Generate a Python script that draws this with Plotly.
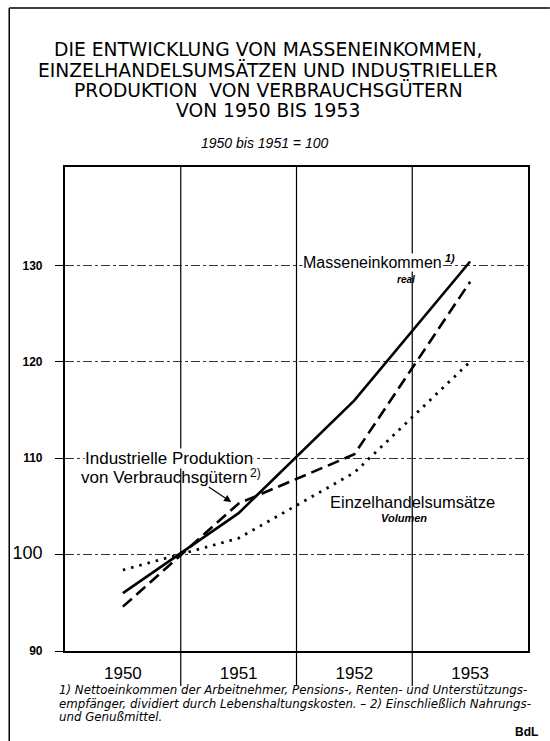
import plotly.graph_objects as go

# ---------------- data ----------------
years = ["1950", "1951", "1952", "1953"]
x_mid = [1950.5, 1951.5, 1952.5, 1953.5]
masseneinkommen = [96.0, 104.3, 116.0, 130.4]
industrie = [94.6, 105.3, 110.4, 128.3]
einzelhandel = [98.4, 101.7, 108.5, 120.0]
y_ticks = [90, 100, 110, 120, 130]
y_ticktext = ["<b>90</b>", "<span style='font-size:18px'>100</span>", "<b>110</b>", "<b>120</b>", "<b>130</b>"]
grid_x = [1951, 1952, 1953]

W, H = 550, 741
L, R, T, B = 63, 528, 167, 651


def px(x):
    return (x - L) / (R - L)


def py(y):
    return (B - y) / (B - T)


FONT = "Liberation Sans"
TFONT = "DejaVu Sans"
fig = go.Figure()

fig.add_trace(go.Scatter(x=x_mid, y=masseneinkommen, mode="lines",
                         line=dict(color="black", width=2.6), showlegend=False, hoverinfo="skip"))
fig.add_trace(go.Scatter(x=x_mid, y=industrie, mode="lines",
                         line=dict(color="black", width=2.6, dash="12px,6px"), showlegend=False, hoverinfo="skip"))
fig.add_trace(go.Scatter(x=x_mid, y=einzelhandel, mode="lines",
                         line=dict(color="black", width=2.8, dash="2.5px,6px"), showlegend=False, hoverinfo="skip"))

shapes = []
for gx in grid_x:
    shapes.append(dict(type="line", xref="x", yref="paper", x0=gx, x1=gx,
                       y0=py(686), y1=1, line=dict(color="black", width=1.2), layer="below"))
# outer frame of the picture
shapes.append(dict(type="line", xref="paper", yref="paper", x0=px(7), x1=px(7),
                   y0=py(741), y1=py(8), line=dict(color="black", width=1.5)))
shapes.append(dict(type="line", xref="paper", yref="paper", x0=px(7), x1=px(550),
                   y0=py(8), y1=py(8), line=dict(color="black", width=1.5)))

ann = []


def text(t, x, y, size, family=FONT, xanchor="center", bg=None):
    d = dict(text=t, x=px(x), y=py(y), xref="paper", yref="paper", showarrow=False,
             xanchor=xanchor, yanchor="middle", align="left",
             font=dict(family=family, size=size, color="black"))
    if bg:
        d["bgcolor"] = bg
        d["borderpad"] = 0
    ann.append(d)


title_lines = ["DIE ENTWICKLUNG VON MASSENEINKOMMEN,",
               "EINZELHANDELSUMSÄTZEN UND INDUSTRIELLER",
               "PRODUKTION  VON VERBRAUCHSGÜTERN",
               "VON 1950 BIS 1953"]
for i, t in enumerate(title_lines):
    text(t, 267, 49 + 20.5 * i, 18.7, TFONT)
text("<i>1950 bis 1951 = 100</i>", 263, 143, 14)

text("Masseneinkommen", 372, 262, 16, bg="white")
text("<b><i>1)</i></b>", 450, 258, 11)
text("<b><i>real</i></b>", 405, 279, 10)
text("Industrielle Produktion", 167, 458, 17, bg="white")
text("von Verbrauchsgütern", 162, 477, 17)
text("2)", 254, 473, 12)
ann.append(dict(text="", x=px(230), y=py(502), xref="paper", yref="paper", showarrow=True,
                ax=-24, ay=-16, arrowhead=2, arrowsize=1.2, arrowwidth=1.2, arrowcolor="black"))
text("Einzelhandelsumsätze", 412, 502, 16.5)
text("<b><i>Volumen</i></b>", 403, 518, 11)

foot_lines = ["<i>1) Nettoeinkommen der Arbeitnehmer, Pensions-, Renten- und Unterstützungs-</i>",
              "<i>empfänger, dividiert durch Lebenshaltungskosten. – 2) Einschließlich Nahrungs-</i>",
              "<i>und Genußmittel.</i>"]
for i, t in enumerate(foot_lines):
    text(t, 55, 690 + 13.5 * i, 11.8, TFONT, xanchor="left")
text("<b>BdL</b>", 540, 732, 12, xanchor="right")

fig.update_layout(
    width=W, height=H,
    margin=dict(l=L, r=W - R, t=T, b=H - B),
    paper_bgcolor="white", plot_bgcolor="white",
    hovermode=False,
    shapes=shapes, annotations=ann,
    xaxis=dict(range=[1950, 1954], tickvals=x_mid, ticktext=years, showgrid=False,
               zeroline=False, showline=True, mirror=True, linecolor="black", linewidth=2.2,
               ticks="", ticklabelstandoff=5,
               tickfont=dict(family=FONT, size=17, color="black"), fixedrange=True),
    yaxis=dict(range=[90, 140.2], tickvals=y_ticks, ticktext=y_ticktext,
               showgrid=True, gridcolor="#333", gridwidth=0.7, griddash="dashdot",
               zeroline=False, showline=True, mirror=True, linecolor="black", linewidth=2.2,
               ticks="outside", ticklen=8, tickcolor="black", tickwidth=1,
               ticklabelstandoff=10,
               tickfont=dict(family=FONT, size=12, color="black"), fixedrange=True),
)

fig.write_html("out.html", config={"displayModeBar": False},
               post_script="document.body.style.margin='0px';")
